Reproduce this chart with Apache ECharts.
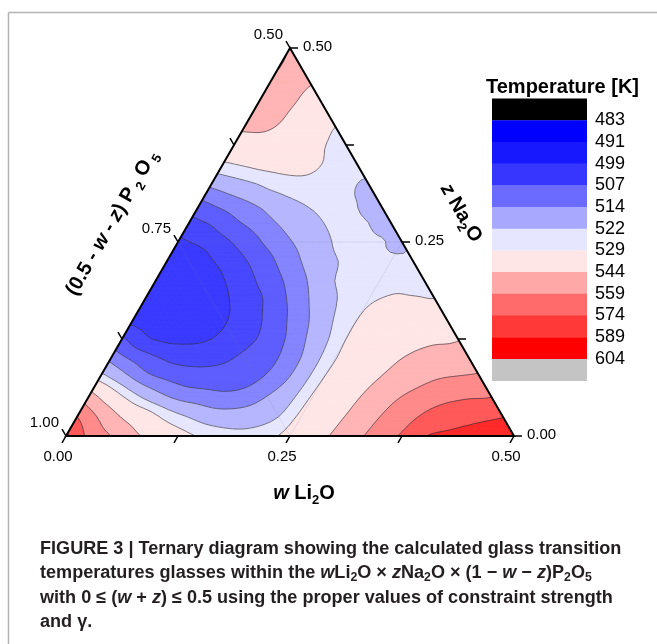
<!DOCTYPE html>
<html>
<head>
<meta charset="utf-8">
<title>Ternary Tg diagram</title>
<script src="https://cdn.jsdelivr.net/npm/echarts@6.0.0/dist/echarts.min.js"></script>
<style>
html, body { margin: 0; padding: 0; background: #ffffff; }
#chart { width: 657px; height: 644px; }
</style>
</head>
<body>
<div id="chart"></div>
<script>
// ---------------- DATA ----------------
// Temperature [K] on a composition grid: row = z (Na2O) = j*STEP, column = w (Li2O) = i*STEP, w + z <= 0.5
const STEP = 0.025;
const T_Z000 = [592, 571, 559, 547, 539, 533, 528, 525, 524.5, 527, 532, 539, 546, 556, 566, 576, 588.5, 591.5, 594, 597, 600];
const T_Z025 = [574, 557, 543, 534.5, 526.5, 521.5, 518, 517.5, 518.5, 522, 531, 537.5, 544.5, 554, 563.5, 572, 580, 583.5, 586, 588.5];
const T_Z050 = [551, 536, 525, 517.5, 512.5, 510.5, 509, 510, 514.5, 520, 530, 536.5, 543, 551.5, 559.5, 566, 570.5, 573, 574];
const T_Z075 = [526, 517.5, 510, 506, 503.5, 503, 503.5, 506, 511, 518.5, 529, 535, 541, 547, 552.5, 558, 560, 561.5];
const T_Z100 = [512, 505.5, 500, 496.5, 496, 497.5, 501, 504.5, 510.5, 518.5, 528.5, 534, 539, 544, 548, 551, 551.5];
const T_Z125 = [500.5, 492.5, 489.5, 489.5, 491, 495, 499, 505, 512.5, 520, 529, 534, 537.5, 540, 542, 543];
const T_Z150 = [488.5, 487, 486.5, 487, 490, 495, 500.5, 508, 515, 522.5, 529, 534, 535, 535.5, 536.5];
const T_Z175 = [486, 485, 485.5, 487.5, 492, 497, 504.5, 511.5, 518.5, 524, 528, 530, 530, 529.5];
const T_Z200 = [485, 484.5, 486, 490.5, 496, 502.5, 509, 515.5, 522, 524.5, 525.5, 527, 526];
const T_Z225 = [485.5, 485.5, 490.5, 495.5, 501.5, 508, 514, 519.5, 523, 524.5, 524, 522.5];
const T_Z250 = [489.5, 492.5, 497, 502.5, 508.5, 513.5, 518, 522.5, 524.5, 523, 519.5];
const T_Z275 = [496.5, 500, 505.5, 510, 514.5, 518.5, 522, 524, 522, 518.5];
const T_Z300 = [505.5, 509.5, 513, 516.5, 520.5, 523, 524, 522, 518.5];
const T_Z325 = [516, 519, 522, 525.5, 527, 526, 524, 520.5];
const T_Z350 = [527.5, 530, 532, 532, 530.5, 526.5, 522.6];
const T_Z375 = [538.5, 539.5, 538.5, 535, 529.5, 525.5];
const T_Z400 = [546, 545.5, 541, 535, 529.2];
const T_Z425 = [550, 547, 542, 535.5];
const T_Z450 = [555, 550, 543];
const T_Z475 = [559.5, 551];
const T_Z500 = [558.5];
const TEMPERATURE_ROWS = [T_Z000, T_Z025, T_Z050, T_Z075, T_Z100, T_Z125, T_Z150, T_Z175, T_Z200,
  T_Z225, T_Z250, T_Z275, T_Z300, T_Z325, T_Z350, T_Z375, T_Z400, T_Z425, T_Z450, T_Z475, T_Z500];

// contour levels (also the colour-scale tick labels)
const LEVELS = [483, 491, 499, 507, 514, 522, 529, 544, 559, 574, 589, 604];
const LEGEND_LABELS = ['483', '491', '499', '507', '514', '522', '529', '544', '559', '574', '589', '604'];

// axis ticks
const W_TICKS = [0, 0.125, 0.25, 0.375, 0.5];
const W_TICK_LABELS = ['0.00', '', '0.25', '', '0.50'];
const Z_TICKS = [0, 0.125, 0.25, 0.375, 0.5];
const Z_TICK_LABELS = ['0.00', '', '0.25', '', '0.50'];
const P_TICKS = [1.0, 0.875, 0.75, 0.625, 0.5];
const P_TICK_LABELS = ['1.00', '', '0.75', '', '0.50'];
const GRID_FRACTION = 0.25;

// ---------------- STYLES ----------------
const FILL_COLORS = ['#000000', '#3b3bff', '#4848ff', '#5e5eff', '#8585ff', '#b6b6ff', '#e6e6ff',
  '#ffe6e6', '#ffb5b5', '#ff8a8a', '#ff5a5a', '#ff2a2a', '#c4c4c4'];
const LEGEND_COLORS = ['#000000', '#0000ff', '#1818ff', '#3636ff', '#6b6bff', '#a8a8ff', '#e6e6ff',
  '#ffe6e6', '#ffa8a8', '#ff6b6b', '#ff3838', '#ff0000', '#c4c4c4'];
const SANS = "'Liberation Sans', Arial, Helvetica, sans-serif";
const H = Math.sqrt(3) / 2;
const SUBDIV = 4; // render-time smoothing of the contour surface

function toXY(w, z) { return [w + z / 2, z * H]; }
const f2 = v => v.toFixed(2);

// ---- smooth surface through the grid values (Catmull-Rom, edge values extended linearly) ----
const NG = TEMPERATURE_ROWS.length - 1;
const memo = {};
function gridT(i, j) {
  if (i >= 0 && j >= 0 && i + j <= NG) return TEMPERATURE_ROWS[j][i];
  const key = i + ',' + j;
  if (key in memo) return memo[key];
  let v;
  if (i < 0) v = 2 * gridT(i + 1, j) - gridT(i + 2, j);
  else if (j < 0) v = 2 * gridT(i, j + 1) - gridT(i, j + 2);
  else if (i >= 2 && j >= 2) v = 2 * gridT(i - 1, j - 1) - gridT(i - 2, j - 2);
  else if (j < 2) v = 2 * gridT(i - 1, j) - gridT(i - 2, j);
  else v = 2 * gridT(i, j - 1) - gridT(i, j - 2);
  memo[key] = v;
  return v;
}
function cr(p0, p1, p2, p3, t) {
  return 0.5 * (2 * p1 + (-p0 + p2) * t + (2 * p0 - 5 * p1 + 4 * p2 - p3) * t * t + (-p0 + 3 * p1 - 3 * p2 + p3) * t * t * t);
}
function surface(u, v) {
  let i0 = Math.min(Math.floor(u), NG - 1), j0 = Math.min(Math.floor(v), NG - 1);
  const fu = u - i0, fv = v - j0;
  const r = [];
  for (let k = -1; k <= 2; k++) {
    const jj = j0 + k;
    r.push(cr(gridT(i0 - 1, jj), gridT(i0, jj), gridT(i0 + 1, jj), gridT(i0 + 2, jj), fu));
  }
  return cr(r[0], r[1], r[2], r[3], fv);
}

function clipPoly(poly, level, keepAbove) {
  const out = [];
  const n = poly.length;
  for (let k = 0; k < n; k++) {
    const a = poly[k], b = poly[(k + 1) % n];
    const ina = keepAbove ? a.t >= level : a.t <= level;
    const inb = keepAbove ? b.t >= level : b.t <= level;
    if (ina) out.push(a);
    if (ina !== inb) {
      const f = (level - a.t) / (b.t - a.t);
      out.push({ x: a.x + f * (b.x - a.x), y: a.y + f * (b.y - a.y), t: level });
    }
  }
  return out;
}
function bandOf(t) { let b = 0; while (b < LEVELS.length && t >= LEVELS[b]) b++; return b; }

function renderPlot(params, api) {
  const P = (w, z) => api.coord(toXY(w, z));
  const M = NG * SUBDIV;
  const nodes = [];
  for (let J = 0; J <= M; J++) {
    const row = [];
    for (let I = 0; I <= M - J; I++) {
      const u = I / SUBDIV, v = J / SUBDIV;
      const p = P(u * STEP, v * STEP);
      row.push({ x: p[0], y: p[1], t: surface(u, v) });
    }
    nodes.push(row);
  }
  const tris = [];
  for (let j = 0; j < nodes.length - 1; j++) {
    const r0 = nodes[j], r1 = nodes[j + 1];
    for (let i = 0; i < r0.length - 1; i++) {
      tris.push([r0[i], r0[i + 1], r1[i]]);
      if (i + 1 < r1.length) tris.push([r0[i + 1], r1[i + 1], r1[i]]);
    }
  }
  const bandPaths = FILL_COLORS.map(() => []);
  const linePaths = LEVELS.map(() => []);
  tris.forEach(tri => {
    const t0 = tri[0].t, t1 = tri[1].t, t2 = tri[2].t;
    const bMin = bandOf(Math.min(t0, t1, t2)), bMax = bandOf(Math.max(t0, t1, t2));
    for (let b = bMin; b <= bMax; b++) {
      let poly = tri;
      if (b > bMin) poly = clipPoly(poly, LEVELS[b - 1], true);
      if (b < bMax) poly = clipPoly(poly, LEVELS[b], false);
      if (poly.length >= 3) bandPaths[b].push('M' + poly.map(p => f2(p.x) + ' ' + f2(p.y)).join('L') + 'Z');
    }
    if (bMin === bMax) return;
    for (let k = bMin; k < bMax; k++) {
      const L = LEVELS[k];
      const pts = [];
      for (let e = 0; e < 3; e++) {
        const a = tri[e], c = tri[(e + 1) % 3];
        if ((a.t < L) !== (c.t < L)) {
          const f = (L - a.t) / (c.t - a.t);
          pts.push([a.x + f * (c.x - a.x), a.y + f * (c.y - a.y)]);
        }
      }
      if (pts.length === 2) linePaths[k].push('M' + f2(pts[0][0]) + ' ' + f2(pts[0][1]) + 'L' + f2(pts[1][0]) + ' ' + f2(pts[1][1]));
    }
  });

  const children = [];
  bandPaths.forEach((parts, b) => {
    if (!parts.length) return;
    children.push({ type: 'path', shape: { pathData: parts.join('') },
      style: { fill: FILL_COLORS[b], stroke: FILL_COLORS[b], lineWidth: 0.5 } });
  });
  // faint inner grid at 0.25
  const g = GRID_FRACTION;
  const gl = [[P(0, g), P(g, g)], [P(g, 0), P(g, g)], [P(0, g), P(g, 0)]];
  children.push({ type: 'path', shape: { pathData: gl.map(s => 'M' + f2(s[0][0]) + ' ' + f2(s[0][1]) + 'L' + f2(s[1][0]) + ' ' + f2(s[1][1])).join('') },
    style: { fill: null, stroke: 'rgba(120,120,150,0.22)', lineWidth: 0.8 } });
  linePaths.forEach(parts => {
    if (!parts.length) return;
    children.push({ type: 'path', shape: { pathData: parts.join('') },
      style: { fill: null, stroke: 'rgba(35,35,45,0.85)', lineWidth: 0.7 } });
  });
  // triangle outline
  const A = P(0, 0), B = P(0.5, 0), C = P(0, 0.5);
  children.push({ type: 'polygon', shape: { points: [A, B, C] }, style: { fill: null, stroke: '#000', lineWidth: 2, lineJoin: 'miter' } });

  // ticks and tick labels
  const TL = 8;
  const ticks = [];
  const lab = { fill: '#000', fontSize: 15, fontFamily: SANS };
  function tick(b, d) {
    const e = [b[0] + d[0], b[1] + d[1]];
    ticks.push('M' + f2(b[0]) + ' ' + f2(b[1]) + 'L' + f2(e[0]) + ' ' + f2(e[1]));
    return e;
  }
  W_TICKS.forEach((w, k) => {
    const e = tick(P(w, 0), [-0.5 * TL, H * TL]);
    if (W_TICK_LABELS[k]) children.push({ type: 'text', x: e[0] - 4, y: e[1] + 14,
      style: Object.assign({ text: W_TICK_LABELS[k], align: 'center', verticalAlign: 'middle' }, lab) });
  });
  Z_TICKS.forEach((z, k) => {
    const e = tick(P(0.5 - z, z), [TL, 0]);
    if (Z_TICK_LABELS[k]) children.push({ type: 'text', x: e[0] + 5, y: e[1] - 1,
      style: Object.assign({ text: Z_TICK_LABELS[k], align: 'left', verticalAlign: 'middle' }, lab) });
  });
  P_TICKS.forEach((p, k) => {
    const e = tick(P(0, 1 - p), [-0.5 * TL, -H * TL]);
    if (P_TICK_LABELS[k]) children.push({ type: 'text', x: e[0] - 3, y: e[1] - 6,
      style: Object.assign({ text: P_TICK_LABELS[k], align: 'right', verticalAlign: 'middle' }, lab) });
  });
  children.push({ type: 'path', shape: { pathData: ticks.join('') }, style: { fill: null, stroke: '#000', lineWidth: 1.5 } });
  return { type: 'group', children: children };
}

// ---------------- caption font fitting ----------------
const CAPTION_PLAIN_1 = 'FIGURE 3 | Ternary diagram showing the calculated glass transition';
function captionFont() {
  const ctx = document.createElement('canvas').getContext('2d');
  ctx.font = 'bold 20px monospace';
  const mono = ctx.measureText(CAPTION_PLAIN_1).width;
  ctx.font = "bold 20px 'Liberation Sans Narrow', monospace";
  const narrow = ctx.measureText(CAPTION_PLAIN_1).width;
  const family = Math.abs(narrow - mono) > 1 ? "'Liberation Sans Narrow', 'Liberation Sans', sans-serif" : SANS;
  ctx.font = 'bold 20px ' + family;
  const w = ctx.measureText(CAPTION_PLAIN_1).width;
  return { family: family, size: 20 * 582 / w };
}
const CF = captionFont();
const cs = CF.size;
const capRich = {
  b: { fontSize: cs, fontWeight: 'bold', fontFamily: CF.family, fill: '#231f20' },
  i: { fontSize: cs, fontWeight: 'bold', fontStyle: 'italic', fontFamily: CF.family, fill: '#231f20' },
  m: { fontSize: cs, fontWeight: 'bold', fontFamily: SANS, fill: '#231f20' },
  s: { fontSize: cs * 0.68, fontWeight: 'bold', fontFamily: CF.family, fill: '#231f20', padding: [cs * 0.45, 0, 0, 0] }
};
const CAPTION_LINES = [
  '{b|FIGURE 3 | Ternary diagram showing the calculated glass transition}',
  '{b|temperatures glasses within the }{i|w}{b|Li}{s|2}{b|O }{m|×}{b| }{i|z}{b|Na}{s|2}{b|O }{m|×}{b| (1 }{m|−}{b| }{i|w}{b| }{m|−}{b| }{i|z}{b|)P}{s|2}{b|O}{s|5}',
  '{b|with 0 }{m|≤}{b| (}{i|w}{b| }{m|+}{b| }{i|z}{b|) }{m|≤}{b| 0.5 using the proper values of constraint strength}',
  '{b|and }{m|γ}{b|.}'
];
const CAPTION_Y = [549, 573.5, 598, 622.5];

const titleRich = {
  n: { fontSize: 20, fontWeight: 'bold', fontFamily: SANS, fill: '#000' },
  i: { fontSize: 20, fontWeight: 'bold', fontStyle: 'italic', fontFamily: SANS, fill: '#000' },
  s: { fontSize: 13, fontWeight: 'bold', fontFamily: SANS, fill: '#000', padding: [14, 0, 0, 0] }
};

const graphics = [
  { type: 'line', shape: { x1: 8.5, y1: 12.5, x2: 657, y2: 12.5 }, style: { stroke: '#b4b4b4', lineWidth: 1.5 } },
  { type: 'line', shape: { x1: 8.5, y1: 12.5, x2: 8.5, y2: 644 }, style: { stroke: '#b4b4b4', lineWidth: 1.5 } },
  { type: 'text', x: 304, y: 493, style: { text: '{i|w}{n| Li}{s|2}{n|O}', rich: titleRich, align: 'center', verticalAlign: 'middle' } },
  { type: 'text', x: 461, y: 213, rotation: -Math.PI / 3, style: { text: '{i|z}{n| Na}{s|2}{n|O}', rich: titleRich, align: 'center', verticalAlign: 'middle' } },
  { type: 'text', x: 112, y: 223, rotation: Math.PI / 3, style: { text: '{n|(0.5 - }{i|w}{n| - }{i|z}{n|) P}{s| 2}{n| O}{s| 5}', rich: titleRich, align: 'center', verticalAlign: 'middle' } },
  { type: 'text', x: 486, y: 87, style: { text: 'Temperature [K]', fontSize: 20, fontWeight: 'bold', fontFamily: SANS, fill: '#000', verticalAlign: 'middle' } }
];
const LX = 492, LY = 98.5, LW = 95, LH = 21.7;
LEGEND_COLORS.forEach((c, k) => graphics.push({ type: 'rect', shape: { x: LX, y: LY + k * LH, width: LW, height: LH + 0.4 }, style: { fill: c } }));
LEGEND_LABELS.forEach((t, k) => graphics.push({ type: 'text', x: 595, y: LY + (k + 1) * LH, style: { text: t, fontSize: 18, fontFamily: SANS, fill: '#000', verticalAlign: 'middle' } }));
CAPTION_LINES.forEach((t, k) => graphics.push({ type: 'text', x: 40, y: CAPTION_Y[k], style: { text: t, rich: capRich, verticalAlign: 'middle', align: 'left' } }));

const chart = echarts.init(document.getElementById('chart'), null, { renderer: 'canvas' });
chart.setOption({
  backgroundColor: '#ffffff',
  animation: false,
  grid: { left: 66, top: 48, width: 448, height: 388 },
  xAxis: { type: 'value', min: 0, max: 0.5, show: false },
  yAxis: { type: 'value', min: 0, max: 0.5 * H, show: false },
  series: [{ type: 'custom', coordinateSystem: 'cartesian2d', silent: true, clip: false, renderItem: renderPlot, data: [[0, 0]] }],
  graphic: graphics
});
</script>
</body>
</html>
